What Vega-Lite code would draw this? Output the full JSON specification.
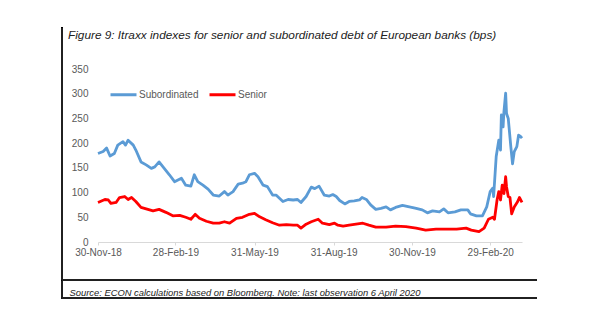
{
  "$schema": "https://vega.github.io/schema/vega-lite/v6.json",
  "width": 424,
  "height": 173,
  "autosize": {"type": "none"},
  "padding": {"left": 98, "top": 69, "right": 78, "bottom": 82},
  "background": "white",
  "title": {
    "text": "Figure 9: Itraxx indexes for senior and subordinated debt of European banks (bps)",
    "anchor": "start",
    "frame": "group",
    "dx": -30,
    "offset": -14,
    "font": "Liberation Sans",
    "fontSize": 11.8,
    "fontStyle": "italic",
    "fontWeight": "normal",
    "color": "#222222"
  },
  "config": {
    "view": {"stroke": null},
    "font": "Liberation Sans",
    "axisX": {
      "grid": false,
      "domainColor": "#d9d9d9",
      "tickColor": "#d9d9d9",
      "tickSize": 3,
      "labelPadding": 2,
      "labelFont": "Liberation Sans",
      "labelFontSize": 10,
      "labelColor": "#595959",
      "labelOverlap": false,
      "labelFlush": false,
      "titleFont": "Liberation Sans",
      "titleFontSize": 9.4,
      "titleFontStyle": "italic",
      "titleFontWeight": "normal",
      "titleColor": "#222222",
      "titleAnchor": "start",
      "titleAlign": "left",
      "titleBaseline": "middle",
      "titleX": -29,
      "titleY": 50
    },
    "axisY": {
      "grid": false,
      "domain": false,
      "ticks": false,
      "labelOverlap": false,
      "labelFlush": false,
      "labelPadding": 10,
      "labelFont": "Liberation Sans",
      "labelFontSize": 10,
      "labelColor": "#595959"
    }
  },
  "data": {"values": [
    {"date": "2018-11-30", "series": "Subordinated", "value": 179},
    {"date": "2018-12-06", "series": "Subordinated", "value": 183},
    {"date": "2018-12-10", "series": "Subordinated", "value": 190},
    {"date": "2018-12-14", "series": "Subordinated", "value": 174},
    {"date": "2018-12-19", "series": "Subordinated", "value": 179},
    {"date": "2018-12-23", "series": "Subordinated", "value": 196},
    {"date": "2018-12-29", "series": "Subordinated", "value": 203},
    {"date": "2019-01-01", "series": "Subordinated", "value": 196},
    {"date": "2019-01-04", "series": "Subordinated", "value": 206},
    {"date": "2019-01-10", "series": "Subordinated", "value": 196},
    {"date": "2019-01-13", "series": "Subordinated", "value": 186},
    {"date": "2019-01-19", "series": "Subordinated", "value": 162},
    {"date": "2019-01-25", "series": "Subordinated", "value": 156},
    {"date": "2019-01-31", "series": "Subordinated", "value": 149},
    {"date": "2019-02-04", "series": "Subordinated", "value": 152},
    {"date": "2019-02-09", "series": "Subordinated", "value": 162},
    {"date": "2019-02-15", "series": "Subordinated", "value": 149},
    {"date": "2019-02-21", "series": "Subordinated", "value": 136},
    {"date": "2019-02-27", "series": "Subordinated", "value": 122},
    {"date": "2019-03-07", "series": "Subordinated", "value": 129},
    {"date": "2019-03-12", "series": "Subordinated", "value": 115},
    {"date": "2019-03-18", "series": "Subordinated", "value": 113},
    {"date": "2019-03-22", "series": "Subordinated", "value": 136},
    {"date": "2019-03-26", "series": "Subordinated", "value": 122},
    {"date": "2019-04-01", "series": "Subordinated", "value": 115},
    {"date": "2019-04-07", "series": "Subordinated", "value": 107},
    {"date": "2019-04-13", "series": "Subordinated", "value": 95},
    {"date": "2019-04-20", "series": "Subordinated", "value": 93},
    {"date": "2019-04-26", "series": "Subordinated", "value": 102},
    {"date": "2019-04-30", "series": "Subordinated", "value": 95},
    {"date": "2019-05-06", "series": "Subordinated", "value": 102},
    {"date": "2019-05-12", "series": "Subordinated", "value": 117},
    {"date": "2019-05-17", "series": "Subordinated", "value": 119},
    {"date": "2019-05-21", "series": "Subordinated", "value": 122},
    {"date": "2019-05-25", "series": "Subordinated", "value": 136},
    {"date": "2019-05-31", "series": "Subordinated", "value": 139},
    {"date": "2019-06-04", "series": "Subordinated", "value": 132},
    {"date": "2019-06-10", "series": "Subordinated", "value": 115},
    {"date": "2019-06-15", "series": "Subordinated", "value": 112},
    {"date": "2019-06-21", "series": "Subordinated", "value": 95},
    {"date": "2019-06-25", "series": "Subordinated", "value": 95},
    {"date": "2019-07-03", "series": "Subordinated", "value": 82},
    {"date": "2019-07-09", "series": "Subordinated", "value": 86},
    {"date": "2019-07-15", "series": "Subordinated", "value": 85},
    {"date": "2019-07-20", "series": "Subordinated", "value": 86},
    {"date": "2019-07-24", "series": "Subordinated", "value": 80},
    {"date": "2019-07-30", "series": "Subordinated", "value": 92},
    {"date": "2019-08-05", "series": "Subordinated", "value": 111},
    {"date": "2019-08-09", "series": "Subordinated", "value": 108},
    {"date": "2019-08-14", "series": "Subordinated", "value": 113},
    {"date": "2019-08-20", "series": "Subordinated", "value": 95},
    {"date": "2019-08-26", "series": "Subordinated", "value": 93},
    {"date": "2019-08-30", "series": "Subordinated", "value": 96},
    {"date": "2019-09-03", "series": "Subordinated", "value": 92},
    {"date": "2019-09-07", "series": "Subordinated", "value": 84},
    {"date": "2019-09-13", "series": "Subordinated", "value": 77},
    {"date": "2019-09-18", "series": "Subordinated", "value": 82},
    {"date": "2019-09-24", "series": "Subordinated", "value": 83},
    {"date": "2019-09-30", "series": "Subordinated", "value": 85},
    {"date": "2019-10-03", "series": "Subordinated", "value": 90},
    {"date": "2019-10-08", "series": "Subordinated", "value": 86},
    {"date": "2019-10-13", "series": "Subordinated", "value": 75},
    {"date": "2019-10-19", "series": "Subordinated", "value": 66},
    {"date": "2019-10-25", "series": "Subordinated", "value": 68},
    {"date": "2019-10-31", "series": "Subordinated", "value": 71},
    {"date": "2019-11-05", "series": "Subordinated", "value": 65},
    {"date": "2019-11-11", "series": "Subordinated", "value": 70},
    {"date": "2019-11-19", "series": "Subordinated", "value": 74},
    {"date": "2019-11-27", "series": "Subordinated", "value": 71},
    {"date": "2019-12-05", "series": "Subordinated", "value": 68},
    {"date": "2019-12-12", "series": "Subordinated", "value": 65},
    {"date": "2019-12-18", "series": "Subordinated", "value": 59},
    {"date": "2019-12-24", "series": "Subordinated", "value": 63},
    {"date": "2020-01-01", "series": "Subordinated", "value": 61},
    {"date": "2020-01-06", "series": "Subordinated", "value": 67},
    {"date": "2020-01-11", "series": "Subordinated", "value": 59},
    {"date": "2020-01-19", "series": "Subordinated", "value": 61},
    {"date": "2020-01-26", "series": "Subordinated", "value": 65},
    {"date": "2020-02-03", "series": "Subordinated", "value": 65},
    {"date": "2020-02-06", "series": "Subordinated", "value": 57},
    {"date": "2020-02-13", "series": "Subordinated", "value": 53},
    {"date": "2020-02-20", "series": "Subordinated", "value": 53},
    {"date": "2020-02-25", "series": "Subordinated", "value": 71},
    {"date": "2020-02-29", "series": "Subordinated", "value": 102},
    {"date": "2020-03-03", "series": "Subordinated", "value": 109},
    {"date": "2020-03-04", "series": "Subordinated", "value": 92},
    {"date": "2020-03-07", "series": "Subordinated", "value": 173},
    {"date": "2020-03-10", "series": "Subordinated", "value": 206},
    {"date": "2020-03-12", "series": "Subordinated", "value": 186},
    {"date": "2020-03-13", "series": "Subordinated", "value": 257},
    {"date": "2020-03-15", "series": "Subordinated", "value": 233},
    {"date": "2020-03-16", "series": "Subordinated", "value": 264},
    {"date": "2020-03-18", "series": "Subordinated", "value": 301},
    {"date": "2020-03-19", "series": "Subordinated", "value": 260},
    {"date": "2020-03-21", "series": "Subordinated", "value": 250},
    {"date": "2020-03-24", "series": "Subordinated", "value": 193},
    {"date": "2020-03-26", "series": "Subordinated", "value": 158},
    {"date": "2020-03-28", "series": "Subordinated", "value": 183},
    {"date": "2020-03-31", "series": "Subordinated", "value": 193},
    {"date": "2020-04-02", "series": "Subordinated", "value": 216},
    {"date": "2020-04-04", "series": "Subordinated", "value": 214},
    {"date": "2020-04-06", "series": "Subordinated", "value": 210},
    {"date": "2018-11-30", "series": "Senior", "value": 80},
    {"date": "2018-12-08", "series": "Senior", "value": 86},
    {"date": "2018-12-12", "series": "Senior", "value": 85},
    {"date": "2018-12-15", "series": "Senior", "value": 78},
    {"date": "2018-12-21", "series": "Senior", "value": 80},
    {"date": "2018-12-25", "series": "Senior", "value": 90},
    {"date": "2018-12-31", "series": "Senior", "value": 92},
    {"date": "2019-01-04", "series": "Senior", "value": 86},
    {"date": "2019-01-08", "series": "Senior", "value": 90},
    {"date": "2019-01-13", "series": "Senior", "value": 82},
    {"date": "2019-01-19", "series": "Senior", "value": 70},
    {"date": "2019-01-25", "series": "Senior", "value": 67},
    {"date": "2019-02-02", "series": "Senior", "value": 63},
    {"date": "2019-02-09", "series": "Senior", "value": 66},
    {"date": "2019-02-17", "series": "Senior", "value": 60},
    {"date": "2019-02-25", "series": "Senior", "value": 53},
    {"date": "2019-03-05", "series": "Senior", "value": 54},
    {"date": "2019-03-12", "series": "Senior", "value": 50},
    {"date": "2019-03-18", "series": "Senior", "value": 46},
    {"date": "2019-03-23", "series": "Senior", "value": 56},
    {"date": "2019-03-28", "series": "Senior", "value": 48},
    {"date": "2019-04-05", "series": "Senior", "value": 42},
    {"date": "2019-04-13", "series": "Senior", "value": 38},
    {"date": "2019-04-20", "series": "Senior", "value": 38},
    {"date": "2019-04-26", "series": "Senior", "value": 41},
    {"date": "2019-05-02", "series": "Senior", "value": 38},
    {"date": "2019-05-10", "series": "Senior", "value": 48},
    {"date": "2019-05-17", "series": "Senior", "value": 50},
    {"date": "2019-05-25", "series": "Senior", "value": 56},
    {"date": "2019-05-31", "series": "Senior", "value": 58},
    {"date": "2019-06-06", "series": "Senior", "value": 51},
    {"date": "2019-06-13", "series": "Senior", "value": 45},
    {"date": "2019-06-21", "series": "Senior", "value": 39},
    {"date": "2019-06-29", "series": "Senior", "value": 34},
    {"date": "2019-07-07", "series": "Senior", "value": 35},
    {"date": "2019-07-15", "series": "Senior", "value": 34},
    {"date": "2019-07-20", "series": "Senior", "value": 34},
    {"date": "2019-07-24", "series": "Senior", "value": 28},
    {"date": "2019-07-30", "series": "Senior", "value": 36},
    {"date": "2019-08-05", "series": "Senior", "value": 41},
    {"date": "2019-08-13", "series": "Senior", "value": 46},
    {"date": "2019-08-18", "series": "Senior", "value": 38},
    {"date": "2019-08-26", "series": "Senior", "value": 35},
    {"date": "2019-09-01", "series": "Senior", "value": 38},
    {"date": "2019-09-05", "series": "Senior", "value": 34},
    {"date": "2019-09-11", "series": "Senior", "value": 32},
    {"date": "2019-09-18", "series": "Senior", "value": 34},
    {"date": "2019-09-26", "series": "Senior", "value": 36},
    {"date": "2019-10-04", "series": "Senior", "value": 38},
    {"date": "2019-10-11", "series": "Senior", "value": 34},
    {"date": "2019-10-19", "series": "Senior", "value": 30},
    {"date": "2019-10-31", "series": "Senior", "value": 30},
    {"date": "2019-11-11", "series": "Senior", "value": 32},
    {"date": "2019-11-23", "series": "Senior", "value": 31},
    {"date": "2019-12-05", "series": "Senior", "value": 28},
    {"date": "2019-12-16", "series": "Senior", "value": 24},
    {"date": "2019-12-28", "series": "Senior", "value": 26},
    {"date": "2020-01-09", "series": "Senior", "value": 26},
    {"date": "2020-01-21", "series": "Senior", "value": 26},
    {"date": "2020-02-01", "series": "Senior", "value": 28},
    {"date": "2020-02-07", "series": "Senior", "value": 24},
    {"date": "2020-02-16", "series": "Senior", "value": 21},
    {"date": "2020-02-22", "series": "Senior", "value": 28},
    {"date": "2020-02-27", "series": "Senior", "value": 46},
    {"date": "2020-03-03", "series": "Senior", "value": 50},
    {"date": "2020-03-05", "series": "Senior", "value": 46},
    {"date": "2020-03-08", "series": "Senior", "value": 85},
    {"date": "2020-03-10", "series": "Senior", "value": 102},
    {"date": "2020-03-12", "series": "Senior", "value": 85},
    {"date": "2020-03-14", "series": "Senior", "value": 115},
    {"date": "2020-03-16", "series": "Senior", "value": 98},
    {"date": "2020-03-18", "series": "Senior", "value": 132},
    {"date": "2020-03-19", "series": "Senior", "value": 112},
    {"date": "2020-03-21", "series": "Senior", "value": 92},
    {"date": "2020-03-23", "series": "Senior", "value": 90},
    {"date": "2020-03-25", "series": "Senior", "value": 57},
    {"date": "2020-03-28", "series": "Senior", "value": 71},
    {"date": "2020-04-01", "series": "Senior", "value": 82},
    {"date": "2020-04-03", "series": "Senior", "value": 90},
    {"date": "2020-04-06", "series": "Senior", "value": 80}
  ]},
  "layer": [
    {
      "mark": {"type": "line", "strokeWidth": 2.8, "strokeJoin": "round"},
      "encoding": {
        "x": {
          "field": "date",
          "type": "temporal",
          "scale": {"domain": [{"year": 2018, "month": 11, "date": 30}, {"year": 2020, "month": 4, "date": 6}], "nice": false},
          "axis": {
            "values": [
              {"year": 2018, "month": 11, "date": 30},
              {"year": 2019, "month": 2, "date": 28},
              {"year": 2019, "month": 5, "date": 31},
              {"year": 2019, "month": 8, "date": 31},
              {"year": 2019, "month": 11, "date": 30},
              {"year": 2020, "month": 2, "date": 29}
            ],
            "format": "%d-%b-%y",
            "title": "Source: ECON calculations based on Bloomberg. Note: last observation 6 April 2020"
          }
        },
        "y": {
          "field": "value",
          "type": "quantitative",
          "scale": {"domain": [0, 350], "nice": false},
          "axis": {"values": [0, 50, 100, 150, 200, 250, 300, 350], "title": null}
        },
        "color": {
          "field": "series",
          "type": "nominal",
          "scale": {"domain": ["Subordinated", "Senior"], "range": ["#5B9BD5", "#FF0000"]},
          "legend": {
            "title": null,
            "orient": "none",
            "legendX": 11,
            "legendY": 11,
            "direction": "horizontal",
            "symbolType": "stroke",
            "symbolSize": 676,
            "symbolStrokeWidth": 3,
            "labelOffset": 1,
            "columnPadding": 4,
            "labelFont": "Liberation Sans",
            "labelFontSize": 10,
            "labelColor": "#595959"
          }
        }
      }
    },
    {
      "mark": {"type": "rule", "color": "#222222", "strokeWidth": 1},
      "encoding": {
        "x": {
          "datum": {"year": 2018, "month": 10, "date": 19},
          "type": "temporal",
          "axis": {
            "values": [
              {"year": 2018, "month": 11, "date": 30},
              {"year": 2019, "month": 2, "date": 28},
              {"year": 2019, "month": 5, "date": 31},
              {"year": 2019, "month": 8, "date": 31},
              {"year": 2019, "month": 11, "date": 30},
              {"year": 2020, "month": 2, "date": 29}
            ],
            "format": "%d-%b-%y",
            "title": "Source: ECON calculations based on Bloomberg. Note: last observation 6 April 2020"
          }
        },
        "y": {"datum": 433, "type": "quantitative", "axis": {"values": [0, 50, 100, 150, 200, 250, 300, 350], "title": null}},
        "y2": {"datum": -113}
      }
    },
    {
      "mark": {"type": "rule", "color": "#222222", "strokeWidth": 1},
      "encoding": {
        "x": {
          "datum": {"year": 2018, "month": 10, "date": 19},
          "type": "temporal",
          "axis": {
            "values": [
              {"year": 2018, "month": 11, "date": 30},
              {"year": 2019, "month": 2, "date": 28},
              {"year": 2019, "month": 5, "date": 31},
              {"year": 2019, "month": 8, "date": 31},
              {"year": 2019, "month": 11, "date": 30},
              {"year": 2020, "month": 2, "date": 29}
            ],
            "format": "%d-%b-%y",
            "title": "Source: ECON calculations based on Bloomberg. Note: last observation 6 April 2020"
          }
        },
        "x2": {"datum": {"year": 2020, "month": 4, "date": 23}},
        "y": {"datum": -76, "type": "quantitative", "axis": {"values": [0, 50, 100, 150, 200, 250, 300, 350], "title": null}}
      }
    },
    {
      "mark": {"type": "rule", "color": "#222222", "strokeWidth": 1},
      "encoding": {
        "x": {
          "datum": {"year": 2018, "month": 10, "date": 19},
          "type": "temporal",
          "axis": {
            "values": [
              {"year": 2018, "month": 11, "date": 30},
              {"year": 2019, "month": 2, "date": 28},
              {"year": 2019, "month": 5, "date": 31},
              {"year": 2019, "month": 8, "date": 31},
              {"year": 2019, "month": 11, "date": 30},
              {"year": 2020, "month": 2, "date": 29}
            ],
            "format": "%d-%b-%y",
            "title": "Source: ECON calculations based on Bloomberg. Note: last observation 6 April 2020"
          }
        },
        "x2": {"datum": {"year": 2020, "month": 4, "date": 23}},
        "y": {"datum": -113, "type": "quantitative", "axis": {"values": [0, 50, 100, 150, 200, 250, 300, 350], "title": null}}
      }
    }
  ]
}
